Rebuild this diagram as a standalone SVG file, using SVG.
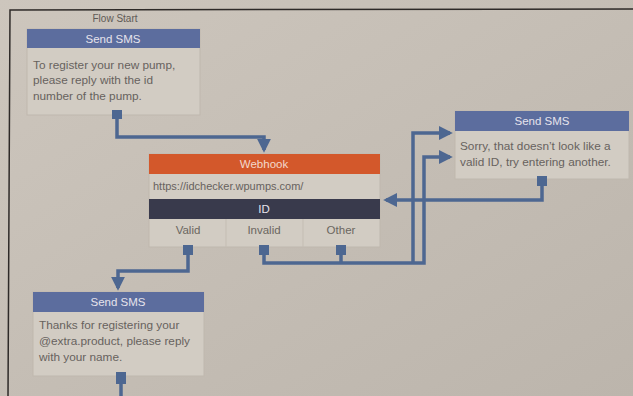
<svg xmlns="http://www.w3.org/2000/svg" width="633" height="396" viewBox="0 0 633 396">
<defs>
<linearGradient id="bg" x1="0" y1="0" x2="1" y2="1">
<stop offset="0" stop-color="#cdc6bd"/>
<stop offset="1" stop-color="#bcb5ac"/>
</linearGradient>
<marker id="arr" viewBox="0 0 10 10" refX="8" refY="5" markerWidth="4" markerHeight="4" orient="auto">
<path d="M0,0 L10,5 L0,10 z" fill="#4d6791"/>
</marker>
<style>
text{font-family:"Liberation Sans",Arial,sans-serif}
.body{fill:#d2ccc3;stroke:#bfb8ae;stroke-width:1}
.sms{fill:#5c6d9e}
.hd{fill:#e6e3ec;font-size:11.5px;text-anchor:middle}
.tx{fill:#67625e;font-size:11.8px}
.opt{fill:#6b6660;font-size:11.5px;text-anchor:middle}
.handle{fill:#4d6791}
.conn{fill:none;stroke:#4d6791;stroke-width:3.5;stroke-linejoin:miter}
</style>
</defs>
<rect width="633" height="396" fill="url(#bg)"/>
<path d="M8,396 L10,10 L633,9" fill="none" stroke="#2e2a28" stroke-width="1.5"/>

<g id="connectors">
<path class="conn" d="M117,116 V137 H264 V150" marker-end="url(#arr)"/>
<path class="conn" d="M188,254 V271 H118 V288" marker-end="url(#arr)"/>
<path class="conn" d="M264,254 V263 H424 V157 H450" marker-end="url(#arr)"/>
<path class="conn" d="M341,254 V263"/>
<path class="conn" d="M413,263 V133 H450" marker-end="url(#arr)"/>
<path class="conn" d="M542,186 V200 H386" marker-end="url(#arr)"/>
<path class="conn" d="M121,384 V396"/>
</g>

<g id="flow-start">
<text x="115" y="22" text-anchor="middle" fill="#5f5a56" font-size="10">Flow Start</text>
<rect class="body" x="27" y="29" width="173" height="86"/>
<rect class="sms" x="27" y="29" width="173" height="19"/>
<text class="hd" x="113" y="43">Send SMS</text>
<text class="tx" x="33" y="69">To register your new pump,</text>
<text class="tx" x="33" y="84">please reply with the id</text>
<text class="tx" x="33" y="100">number of the pump.</text>
<rect class="handle" x="112" y="110" width="10" height="9"/>
</g>

<g id="webhook">
<rect class="body" x="149" y="154" width="231" height="93"/>
<rect x="149" y="154" width="231" height="20" fill="#d3582b"/>
<text class="hd" x="264" y="168" style="fill:#f3d9cc">Webhook</text>
<text class="tx" x="153" y="190" style="font-size:11px">https://idchecker.wpumps.com/</text>
<rect x="149" y="199" width="231" height="20" fill="#393a4c"/>
<text class="hd" x="264" y="213">ID</text>
<line x1="226" y1="219" x2="226" y2="247" stroke="#c4bdb3"/>
<line x1="303" y1="219" x2="303" y2="247" stroke="#c4bdb3"/>
<text class="opt" x="188" y="234">Valid</text>
<text class="opt" x="264" y="234">Invalid</text>
<text class="opt" x="341" y="234">Other</text>
<rect class="handle" x="183" y="245" width="10" height="10"/>
<rect class="handle" x="259" y="245" width="10" height="10"/>
<rect class="handle" x="336" y="245" width="10" height="10"/>
</g>

<g id="sms-retry">
<rect class="body" x="455" y="111" width="174" height="68"/>
<rect class="sms" x="455" y="111" width="174" height="20"/>
<text class="hd" x="542" y="125">Send SMS</text>
<text class="tx" x="460" y="150">Sorry, that doesn’t look like a</text>
<text class="tx" x="460" y="166">valid ID, try entering another.</text>
<rect class="handle" x="537" y="176" width="10" height="10"/>
</g>

<g id="sms-thanks">
<rect class="body" x="33" y="292" width="171" height="84"/>
<rect class="sms" x="33" y="292" width="171" height="20"/>
<text class="hd" x="118" y="306">Send SMS</text>
<text class="tx" x="39" y="329">Thanks for registering your</text>
<text class="tx" x="39" y="345">@extra.product, please reply</text>
<text class="tx" x="39" y="361">with your name.</text>
<rect class="handle" x="116" y="372" width="10" height="12"/>
</g>
</svg>
